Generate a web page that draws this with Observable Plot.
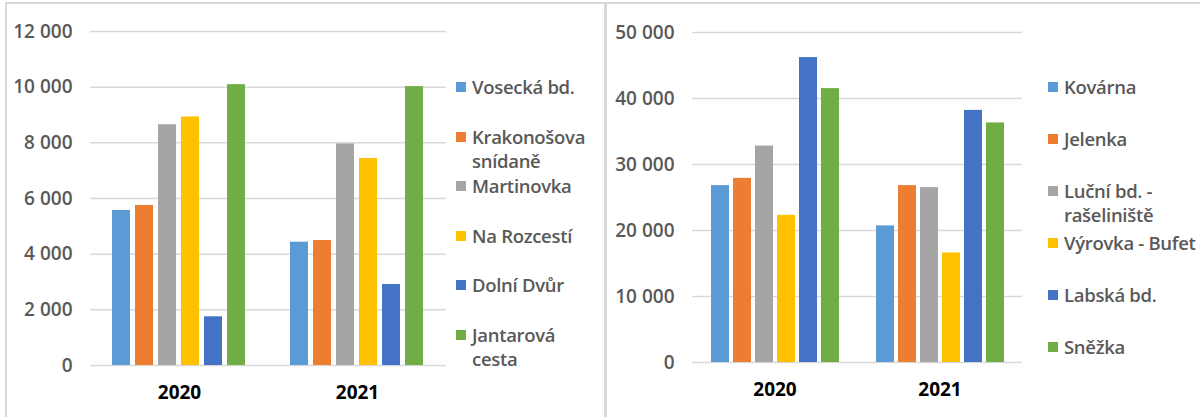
<!DOCTYPE html>
<html><head><meta charset="utf-8">
<script src="https://cdn.jsdelivr.net/npm/d3@7"></script>
<script src="https://cdn.jsdelivr.net/npm/@observablehq/plot@0.6"></script>
<style>
body{margin:0;background:#fff;}
#wrap{position:relative;width:1200px;height:417px;overflow:hidden;font-family:"Open Sans",sans-serif;}
.panel{position:absolute;top:0;}
.line{position:absolute;background:#d9d9d9;}
.item{position:absolute;display:flex;align-items:flex-start;color:#595959;font-weight:600;font-size:18.5px;letter-spacing:-0.3px;line-height:24px;white-space:pre;}
.sw{width:10px;height:10px;margin-top:7px;margin-right:6px;flex:none;}
</style></head>
<body><div id="wrap"></div>
<script>
const years = ["2020", "2021"];
const colors = ["#5B9BD5", "#ED7D31", "#A5A5A5", "#FFC000", "#4472C4", "#70AD47"];

const leftNames = ["Vosecká bd.", "Krakonošova snídaně", "Martinovka", "Na Rozcestí", "Dolní Dvůr", "Jantarová cesta"];
const leftLegend = ["Vosecká bd.", "Krakonošova\nsnídaně", "Martinovka", "Na Rozcestí", "Dolní Dvůr", "Jantarová\ncesta"];
const left2020 = [5570, 5750, 8650, 8930, 1750, 10090];
const left2021 = [4430, 4490, 7960, 7440, 2910, 10020];
const leftTicks = [0, 2000, 4000, 6000, 8000, 10000, 12000];

const rightNames = ["Kovárna", "Jelenka", "Luční bd. - rašeliniště", "Výrovka - Bufet", "Labská bd.", "Sněžka"];
const rightLegend = ["Kovárna", "Jelenka", "Luční bd. -\nrašeliniště", "Výrovka - Bufet", "Labská bd.", "Sněžka"];
const right2020 = [26800, 27900, 32800, 22300, 46200, 41500];
const right2021 = [20700, 26800, 26500, 16600, 38200, 36300];
const rightTicks = [0, 10000, 20000, 30000, 40000, 50000];

const fmt = d3.formatLocale({thousands: " ", grouping: [3], decimal: ","}).format(",");
const wrap = document.getElementById("wrap");

function chart(names, v2020, v2021, ticks, opts) {
  const data = [];
  names.forEach((n, i) => {
    data.push({year: years[0], name: n, value: v2020[i]});
    data.push({year: years[1], name: n, value: v2021[i]});
  });
  const svg = Plot.plot({
    width: opts.width, height: 417,
    marginLeft: opts.ml, marginRight: opts.mr, marginTop: opts.mt, marginBottom: opts.mb,
    style: {fontFamily: "Open Sans", fontSize: "19px", background: "transparent", overflow: "visible"},
    fx: {domain: years, padding: 0, label: null},
    x: {domain: names, paddingInner: 0.2, paddingOuter: opts.po, axis: null},
    y: {domain: [0, ticks[ticks.length - 1]], label: null},
    color: {domain: names, range: colors},
    marks: [
      Plot.gridY(ticks, {stroke: "#d9d9d9", strokeOpacity: 1, strokeWidth: 1.5}),
      Plot.barY(data, {fx: "year", x: "name", y: "value", fill: "name"}),
      Plot.axisY(ticks, {tickFormat: fmt, tickSize: 0, tickPadding: 18, color: "#595959", fontWeight: 600, label: null}),
      Plot.axisFx({anchor: "bottom", tickSize: 0, tickPadding: 20, color: "#000", fontWeight: 700, label: null})
    ]
  });
  const div = document.createElement("div");
  div.className = "panel";
  div.style.left = opts.left + "px";
  div.appendChild(svg);
  wrap.appendChild(div);
}

function legend(labels, x, y0, step) {
  labels.forEach((t, i) => {
    const it = document.createElement("div");
    it.className = "item";
    it.style.left = x + "px";
    it.style.top = (y0 + i * step - 12) + "px";
    const sw = document.createElement("div");
    sw.className = "sw";
    sw.style.background = colors[i];
    const tx = document.createElement("div");
    tx.textContent = t;
    it.appendChild(sw); it.appendChild(tx);
    wrap.appendChild(it);
  });
}

chart(leftNames, left2020, left2021, leftTicks, {left: 0, width: 450, ml: 90, mr: 4, mt: 31, mb: 52, po: 0.82});
chart(rightNames, right2020, right2021, rightTicks, {left: 600, width: 425, ml: 92, mr: 3, mt: 32, mb: 55, po: 0.85});
legend(leftLegend, 456, 87, 49.6);
legend(rightLegend, 1048, 87, 52);

function line(l, t, w, h) {
  const d = document.createElement("div");
  d.className = "line";
  Object.assign(d.style, {left: l + "px", top: t + "px", width: w + "px", height: h + "px"});
  wrap.appendChild(d);
}
line(5, 2, 1195, 2);
line(5, 2, 2, 415);
line(604, 2, 3, 415);
</script>
</body></html>
